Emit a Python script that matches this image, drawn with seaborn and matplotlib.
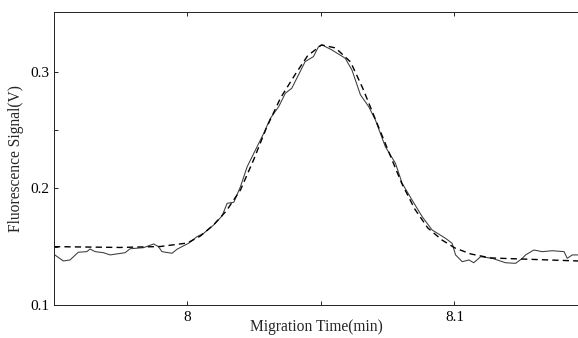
import numpy as np
import pandas as pd
import seaborn as sns
import matplotlib.pyplot as plt
from matplotlib.ticker import FixedLocator, FuncFormatter

# measured signal (solid)
meas_time = [7.9501, 7.9536, 7.9561, 7.9592, 7.9624, 7.9636, 7.9655, 7.9686, 7.9711,
             7.9767, 7.9786, 7.9836, 7.9874, 7.9892, 7.9905, 7.9943, 7.9961, 7.9980,
             8.0005, 8.0036, 8.0061, 8.0099, 8.0130, 8.0149, 8.0174, 8.0199, 8.0224,
             8.0255, 8.0286, 8.0311, 8.0342, 8.0367, 8.0391, 8.0416, 8.0441, 8.0472,
             8.0491, 8.0504, 8.0541, 8.0591, 8.0616, 8.0648, 8.0679, 8.0704, 8.0741,
             8.0779, 8.0804, 8.0841, 8.0879, 8.0916, 8.0966, 8.0991, 8.1004, 8.1029,
             8.1054, 8.1072, 8.1098, 8.1141, 8.1191, 8.1229, 8.1254, 8.1266, 8.1297,
             8.1329, 8.1366, 8.1410, 8.1422, 8.1441, 8.1466]
meas_signal = [0.1434, 0.1377, 0.1386, 0.1452, 0.1457, 0.1480, 0.1457, 0.1448, 0.1429,
               0.1448, 0.1482, 0.1491, 0.1523, 0.1500, 0.1457, 0.1443, 0.1477, 0.1500,
               0.1529, 0.1585, 0.1614, 0.1686, 0.1763, 0.1871, 0.1880, 0.2014, 0.2185,
               0.2328, 0.2471, 0.2600, 0.2699, 0.2814, 0.2857, 0.2971, 0.3085, 0.3128,
               0.3213, 0.3228, 0.3185, 0.3114, 0.3014, 0.2800, 0.2699, 0.2585, 0.2357,
               0.2214, 0.2043, 0.1900, 0.1757, 0.1643, 0.1572, 0.1529, 0.1429, 0.1371,
               0.1386, 0.1362, 0.1414, 0.1400, 0.1362, 0.1357, 0.1400, 0.1429, 0.1471,
               0.1457, 0.1465, 0.1457, 0.1400, 0.1429, 0.1429]

# fitted curve (dashed)
fit_time = [7.9501, 7.9749, 7.9899, 8.0000, 8.0049, 8.0098, 8.0146, 8.0199, 8.0248,
            8.0296, 8.0349, 8.0405, 8.0450, 8.0502, 8.0555, 8.0611, 8.0656, 8.0705,
            8.0754, 8.0802, 8.0851, 8.0900, 8.0953, 8.1001, 8.1061, 8.1136, 8.1249,
            8.1466]
fit_signal = [0.1500, 0.1493, 0.1501, 0.1531, 0.1591, 0.1686, 0.1806, 0.1986, 0.2243,
              0.2517, 0.2774, 0.2980, 0.3134, 0.3228, 0.3202, 0.3082, 0.2860, 0.2585,
              0.2311, 0.2045, 0.1823, 0.1660, 0.1557, 0.1489, 0.1437, 0.1403, 0.1394,
              0.1377]

x_ticks = [7.95, 8.0, 8.05, 8.1]
x_labels = {8.0: "8", 8.1: "8.1"}
y_ticks = [0.1, 0.15, 0.2, 0.25, 0.3]
y_labels = {0.1: "0.1", 0.2: "0.2", 0.3: "0.3"}

sns.set_theme(style="ticks")
plt.rcParams['font.family'] = ['Liberation Serif', 'DejaVu Serif']

meas = pd.DataFrame({"t": meas_time, "s": meas_signal})
fit = pd.DataFrame({"t": fit_time, "s": fit_signal})

fig = plt.figure(figsize=(5.78, 3.38), dpi=100)
ax = fig.add_axes([54 / 578, 1 - 305 / 338, 525 / 578, 293 / 338])

sns.lineplot(data=meas, x="t", y="s", ax=ax, color="#3a3a3a", lw=0.75)
sns.lineplot(data=fit, x="t", y="s", ax=ax, color="black", lw=1.0, dashes=False)
ax.lines[-1].set_dashes((4.5, 3))

ax.set_xlim(7.9501, 8.1466)
ax.set_ylim(0.1, 0.351)

ax.xaxis.set_major_locator(FixedLocator(x_ticks))
ax.yaxis.set_major_locator(FixedLocator(y_ticks))
ax.xaxis.set_major_formatter(FuncFormatter(
    lambda v, p: next((s for k, s in x_labels.items() if abs(k - v) < 1e-6), "")))
ax.yaxis.set_major_formatter(FuncFormatter(
    lambda v, p: next((s for k, s in y_labels.items() if abs(k - v) < 1e-6), "")))
ax.tick_params(direction="in", length=3, width=0.6, top=True, right=False,
               labelsize=11, colors="black")
ax.tick_params(axis="y", pad=3)
ax.tick_params(axis="x", pad=4)

for side in ["left", "bottom", "top"]:
    ax.spines[side].set_linewidth(0.7)
    ax.spines[side].set_color("#222222")
ax.spines["right"].set_visible(False)

ax.set_xlabel("Migration Time(min)", fontsize=11.2, labelpad=-3)
ax.set_ylabel("Fluorescence Signal(V)", fontsize=11.2, labelpad=5)

fig.savefig("out.png", dpi=100)
